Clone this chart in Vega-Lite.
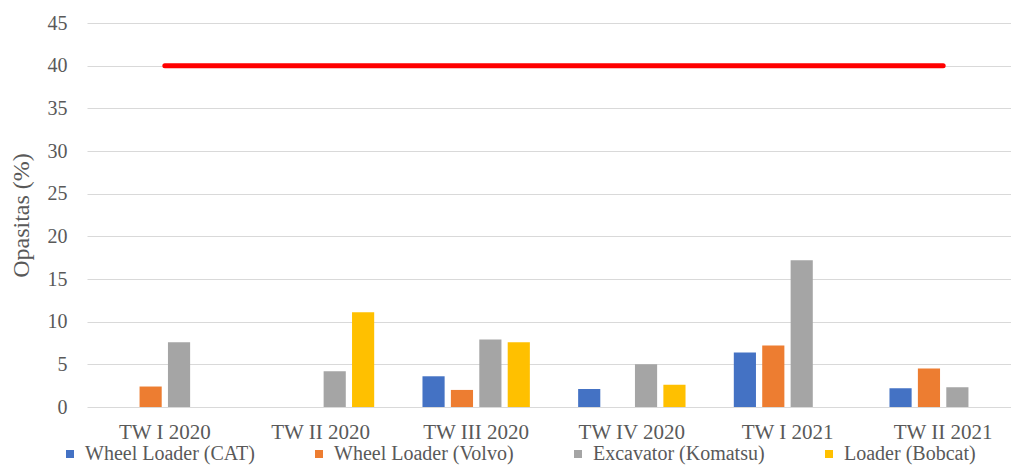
{
  "$schema": "https://vega.github.io/schema/vega-lite/v6.json",
  "width": 924,
  "height": 384,
  "autosize": {"type": "none"},
  "padding": {"left": 87, "top": 23, "right": 0, "bottom": 61},
  "background": "white",
  "config": {
    "font": "Liberation Serif",
    "view": {"stroke": null},
    "axis": {"labelColor": "#595959", "titleColor": "#595959", "labelFont": "Liberation Serif", "titleFont": "Liberation Serif"},
    "legend": {"labelFont": "Liberation Serif", "labelColor": "#595959", "padding": 0}
  },
  "datasets": {
    "bars": [
      {"kuartal": "TW I 2020", "alat": "Wheel Loader (Volvo)", "opasitas": 2.4},
      {"kuartal": "TW I 2020", "alat": "Excavator (Komatsu)", "opasitas": 7.6},
      {"kuartal": "TW II 2020", "alat": "Excavator (Komatsu)", "opasitas": 4.2},
      {"kuartal": "TW II 2020", "alat": "Loader (Bobcat)", "opasitas": 11.1},
      {"kuartal": "TW III 2020", "alat": "Wheel Loader (CAT)", "opasitas": 3.6},
      {"kuartal": "TW III 2020", "alat": "Wheel Loader (Volvo)", "opasitas": 2.0},
      {"kuartal": "TW III 2020", "alat": "Excavator (Komatsu)", "opasitas": 7.9},
      {"kuartal": "TW III 2020", "alat": "Loader (Bobcat)", "opasitas": 7.6},
      {"kuartal": "TW IV 2020", "alat": "Wheel Loader (CAT)", "opasitas": 2.1},
      {"kuartal": "TW IV 2020", "alat": "Excavator (Komatsu)", "opasitas": 5.0},
      {"kuartal": "TW IV 2020", "alat": "Loader (Bobcat)", "opasitas": 2.6},
      {"kuartal": "TW I 2021", "alat": "Wheel Loader (CAT)", "opasitas": 6.4},
      {"kuartal": "TW I 2021", "alat": "Wheel Loader (Volvo)", "opasitas": 7.2},
      {"kuartal": "TW I 2021", "alat": "Excavator (Komatsu)", "opasitas": 17.2},
      {"kuartal": "TW II 2021", "alat": "Wheel Loader (CAT)", "opasitas": 2.2},
      {"kuartal": "TW II 2021", "alat": "Wheel Loader (Volvo)", "opasitas": 4.5},
      {"kuartal": "TW II 2021", "alat": "Excavator (Komatsu)", "opasitas": 2.3}
    ],
    "batas": [
      {"kuartal": "TW I 2020", "nilai": 40},
      {"kuartal": "TW II 2020", "nilai": 40},
      {"kuartal": "TW III 2020", "nilai": 40},
      {"kuartal": "TW IV 2020", "nilai": 40},
      {"kuartal": "TW I 2021", "nilai": 40},
      {"kuartal": "TW II 2021", "nilai": 40}
    ]
  },
  "encoding": {
    "x": {
      "field": "kuartal", "type": "nominal", "sort": null,
      "scale": {"domain": ["TW I 2020", "TW II 2020", "TW III 2020", "TW IV 2020", "TW I 2021", "TW II 2021"], "range": [0, 934], "paddingInner": 0.27, "paddingOuter": 0.135},
      "axis": {"title": null, "labelAngle": 0, "ticks": false, "domain": false, "labelFontSize": 21, "labelPadding": 14}
    }
  },
  "layer": [
    {
      "data": {"name": "bars"},
      "mark": {"type": "bar"},
      "encoding": {
        "xOffset": {
          "field": "alat", "type": "nominal",
          "scale": {"domain": ["Wheel Loader (CAT)", "Wheel Loader (Volvo)", "Excavator (Komatsu)", "Loader (Bobcat)"], "paddingInner": 0.22, "paddingOuter": 0.11}
        },
        "y": {
          "field": "opasitas", "type": "quantitative",
          "scale": {"domain": [0, 45]},
          "axis": {
            "title": "Opasitas (%)", "titleFontSize": 24, "titleFontWeight": "normal", "titlePadding": 14,
            "values": [0, 5, 10, 15, 20, 25, 30, 35, 40, 45],
            "labelFontSize": 20, "labelPadding": 20, "ticks": false, "domain": false,
            "gridColor": "#D9D9D9", "gridWidth": 1
          }
        },
        "color": {
          "field": "alat", "type": "nominal",
          "scale": {"domain": ["Wheel Loader (CAT)", "Wheel Loader (Volvo)", "Excavator (Komatsu)", "Loader (Bobcat)"], "range": ["#4472C4", "#ED7D31", "#A5A5A5", "#FFC000"]},
          "legend": {
            "title": null, "orient": "none", "direction": "horizontal", "columns": 4,
            "legendX": -27, "legendY": 421, "labelFontSize": 20, "labelLimit": 0, "symbolType": "square",
            "symbolSize": 64, "symbolStrokeWidth": 0, "labelOffset": 5, "columnPadding": 54
          }
        }
      }
    },
    {
      "data": {"name": "batas"},
      "mark": {"type": "line", "color": "#FF0000", "strokeWidth": 5, "strokeCap": "round"},
      "encoding": {
        "y": {"field": "nilai", "type": "quantitative"}
      }
    }
  ]
}
